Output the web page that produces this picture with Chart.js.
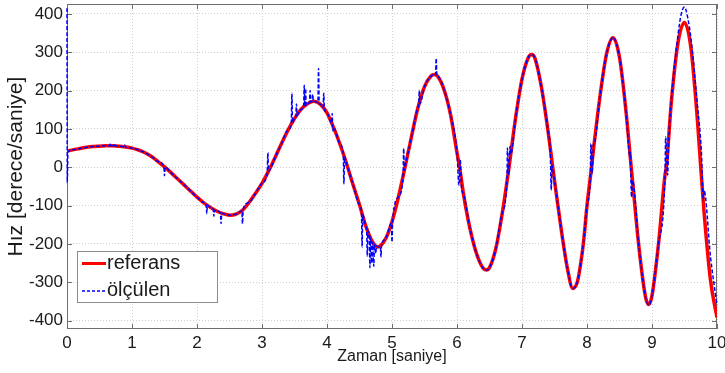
<!DOCTYPE html>
<html>
<head>
<meta charset="utf-8">
<script src="https://cdn.jsdelivr.net/npm/chart.js@4/dist/chart.umd.min.js"></script>
<style>
    html, body { margin: 0; padding: 0; background: #fff; }
    #wrap { width: 725px; height: 373px; }
</style>
</head>
<body>
<div id="wrap"><canvas id="speedChart" width="725" height="373"></canvas></div>
<script>
// Data
const refTime = [0, 0.1, 0.2, 0.3, 0.4, 0.5, 0.6, 0.7, 0.8, 0.9, 1.0, 1.1, 1.2, 1.3, 1.4, 1.5, 1.6, 1.7, 1.8, 1.9,
    2.0, 2.1, 2.2, 2.3, 2.4, 2.5, 2.6, 2.7, 2.8, 2.9, 3.0, 3.1, 3.2, 3.3, 3.4, 3.5, 3.6, 3.7, 3.8, 3.9,
    4.0, 4.1, 4.2, 4.3, 4.4, 4.5, 4.6, 4.7, 4.78, 4.9, 5.0, 5.1, 5.2, 5.3, 5.4, 5.5, 5.6, 5.65, 5.7, 5.8, 5.9,
    6.0, 6.04, 6.1, 6.2, 6.3, 6.4, 6.45, 6.5, 6.6, 6.7, 6.8, 6.9, 7.0, 7.1, 7.15, 7.2, 7.3, 7.4,
    7.5, 7.6, 7.7, 7.78, 7.85, 7.9, 7.95, 8.0, 8.07, 8.1, 8.2, 8.3, 8.4, 8.5, 8.6, 8.68, 8.7, 8.8, 8.9,
    8.95, 9.0, 9.1, 9.2, 9.22, 9.3, 9.4, 9.5, 9.6, 9.7, 9.75, 9.8, 9.9, 10.0];
const refSpeed = [42, 46, 49, 52, 54, 55, 56, 56, 55, 53, 50, 45, 38, 28, 15, 1, -14, -30, -46, -62,
    -78, -92, -104, -114, -121, -125, -122, -112, -92, -68, -42, -10, 25, 62, 97, 127, 151, 166, 172, 164,
    142, 104, 60, 10, -45, -98, -155, -195, -208, -187, -142, -77, 0, 80, 156, 210, 238, 242, 238, 203, 138,
    38, 0, -70, -160, -225, -263, -268, -262, -210, -116, 0, 127, 230, 287, 294, 284, 208, 95,
    -35, -158, -265, -316, -300, -255, -190, -100, 0, 47, 185, 295, 338, 287, 146, 0, -35, -210, -338,
    -358, -335, -200, -20, 0, 175, 325, 378, 310, 120, 0, -115, -295, -392];

const measTime = [0, 0.004, 0.015, 0.1, 0.2, 0.3, 0.4, 0.5, 0.6, 0.66, 0.67, 0.68, 0.72, 0.73, 0.74, 0.8, 0.88, 0.89, 0.9,
    1.0, 1.1, 1.2, 1.3, 1.4, 1.49, 1.5, 1.51, 1.6, 1.7, 1.8, 1.9, 2.0, 2.1, 2.14, 2.15, 2.16, 2.2, 2.25, 2.26, 2.27,
    2.3, 2.36, 2.37, 2.38, 2.4, 2.5, 2.6, 2.69, 2.7, 2.71, 2.8, 2.9, 3.0, 3.08, 3.09, 3.1, 3.2, 3.3, 3.4,
    3.45, 3.46, 3.47, 3.5, 3.52, 3.53, 3.54, 3.6, 3.64, 3.65, 3.66, 3.67, 3.68, 3.7, 3.73, 3.74, 3.75, 3.77, 3.78,
    3.79, 3.8, 3.86, 3.87, 3.88, 3.9, 3.94, 3.95, 3.96, 4.0, 4.07, 4.08, 4.09, 4.1, 4.2, 4.25, 4.26, 4.27, 4.3,
    4.4, 4.5, 4.53, 4.54, 4.55, 4.6, 4.61, 4.62, 4.63, 4.65, 4.66, 4.67, 4.69, 4.7, 4.72, 4.73, 4.75, 4.76, 4.78,
    4.82, 4.83, 4.84, 4.9, 4.99, 5.0, 5.01, 5.1, 5.17, 5.18, 5.19, 5.2, 5.3, 5.4, 5.41, 5.42, 5.43, 5.5, 5.6,
    5.65, 5.67, 5.68, 5.69, 5.7, 5.8, 5.9, 6.0, 6.03, 6.05, 6.07, 6.1, 6.2, 6.3, 6.4, 6.45, 6.5, 6.6, 6.7,
    6.77, 6.775, 6.8, 6.815, 6.83, 6.9, 7.0, 7.1, 7.15, 7.2, 7.3, 7.4, 7.435, 7.45, 7.46, 7.5, 7.6, 7.7,
    7.78, 7.85, 7.9, 7.95, 8.0, 8.05, 8.06, 8.08, 8.1, 8.11, 8.2, 8.3, 8.4, 8.5, 8.6, 8.66, 8.665, 8.685, 8.7,
    8.8, 8.9, 8.95, 9.0, 9.1, 9.2, 9.21, 9.24, 9.26, 9.3, 9.4, 9.45, 9.5, 9.55, 9.6, 9.7, 9.76, 9.79, 9.8,
    9.9, 10.0];
const measSpeed = [415, -40, 40, 46, 49, 52, 54, 55, 56, 56, 62, 56, 56, 61, 56, 55, 53, 58, 53,
    50, 45, 38, 28, 15, 2, -22, 0, -14, -30, -46, -62, -78, -92, -97, -121, -99, -104, -110, -128, -112,
    -114, -119, -147, -120, -121, -125, -122, -114, -147, -110, -92, -68, -42, -16, 38, -10, 25, 62, 97,
    113, 193, 116, 127, 132, 165, 136, 151, 158, 214, 160, 205, 162, 166, 168, 200, 170, 171, 190,
    172, 172, 169, 258, 167, 164, 156, 193, 152, 142, 116, 140, 95, 104, 60, 36, -43, 28, 10,
    -45, -98, -115, -208, -124, -155, -160, -232, -166, -175, -262, -182, -250, -195, -258, -200, -225, -205, -208,
    -206, -234, -203, -187, -146, -195, -138, -77, -24, 49, -8, 0, 80, 156, 160, 201, 166, 210, 238,
    242, 241, 284, 239, 238, 203, 138, 38, -47, 20, -55, -70, -160, -225, -263, -268, -262, -210, -116,
    -25, 50, -20, 55, 35, 127, 230, 287, 294, 284, 208, 95, 40, -60, 5, -35, -158, -265,
    -316, -300, -255, -190, -100, -30, 62, -16, 60, 62, 185, 295, 338, 287, 146, 30, 40, -78, -35,
    -210, -338, -360, -335, -200, -20, 79, -20, 80, 180, 345, 400, 418, 390, 335, 160, 40, -86, -60,
    -234, -360];

const xTickValues = [0, 1, 2, 3, 4, 5, 6, 7, 8, 9, 10];
const yTickValues = [-400, -300, -200, -100, 0, 100, 200, 300, 400];

const seriesNames = ['referans', 'ölçülen'];

// Global chart settings
Chart.defaults.font.family = "'Liberation Sans', Arial, sans-serif";
Chart.defaults.color = '#1a1a1a';

function toPoints(xs, ys) {
    return xs.map((x, i) => ({ x: x, y: ys[i] }));
}

// Box around the axes with small inward ticks (matlab style)
const axesBoxPlugin = {
    id: 'axesBox',
    beforeDatasetsDraw(chart) {
        const { ctx, chartArea: a, scales } = chart;
        ctx.save();
        ctx.strokeStyle = '#6e6e6e';
        ctx.lineWidth = 1;
        ctx.strokeRect(a.left + 0.5, a.top + 0.5, a.right - a.left - 1, a.bottom - a.top - 1);
        ctx.beginPath();
        xTickValues.forEach(v => {
            const px = Math.round(scales.x.getPixelForValue(v)) + 0.5;
            ctx.moveTo(px, a.bottom); ctx.lineTo(px, a.bottom - 5);
            ctx.moveTo(px, a.top); ctx.lineTo(px, a.top + 5);
        });
        yTickValues.forEach(v => {
            const py = Math.round(scales.y.getPixelForValue(v)) + 0.5;
            ctx.moveTo(a.left, py); ctx.lineTo(a.left + 5, py);
            ctx.moveTo(a.right, py); ctx.lineTo(a.right - 5, py);
        });
        ctx.stroke();
        ctx.restore();
    }
};

// Legend box in the lower left corner
const boxLegendPlugin = {
    id: 'boxLegend',
    afterDraw(chart) {
        const ctx = chart.ctx;
        const x = 77, y = 251, w = 140, h = 51;
        ctx.save();
        ctx.fillStyle = '#ffffff';
        ctx.fillRect(x, y, w, h);
        ctx.strokeStyle = '#8c8c8c';
        ctx.lineWidth = 1;
        ctx.strokeRect(x + 0.5, y + 0.5, w, h);

        // referans
        ctx.strokeStyle = '#ff0000';
        ctx.lineWidth = 3;
        ctx.beginPath();
        ctx.moveTo(82, 263.5); ctx.lineTo(106, 263.5);
        ctx.stroke();
        // olculen
        ctx.strokeStyle = '#0000ff';
        ctx.lineWidth = 1.5;
        ctx.setLineDash([3, 2]);
        ctx.beginPath();
        ctx.moveTo(82, 291); ctx.lineTo(106, 291);
        ctx.stroke();
        ctx.setLineDash([]);

        ctx.fillStyle = '#1a1a1a';
        ctx.font = "20px 'Liberation Sans', Arial, sans-serif";
        ctx.textBaseline = 'middle';
        ctx.fillText(seriesNames[0], 107, 263);
        ctx.fillText(seriesNames[1], 107, 290);
        ctx.restore();
    }
};

function createSpeedChart() {
    const ctx = document.getElementById('speedChart');

    new Chart(ctx, {
        type: 'line',
        data: {
            datasets: [
                {
                    label: seriesNames[0],
                    data: toPoints(refTime, refSpeed),
                    borderColor: '#ff0000',
                    borderWidth: 3.5,
                    pointRadius: 0,
                    cubicInterpolationMode: 'monotone',
                    order: 2
                },
                {
                    label: seriesNames[1],
                    data: toPoints(measTime, measSpeed),
                    borderColor: '#0000ff',
                    borderWidth: 1.5,
                    borderDash: [4, 2],
                    pointRadius: 0,
                    cubicInterpolationMode: 'monotone',
                    clip: 2,
                    order: 1
                }
            ]
        },
        options: {
            responsive: false,
            devicePixelRatio: 1,
            animation: false,
            layout: {
                padding: { top: 4, right: 8, bottom: 0, left: 0 }
            },
            plugins: {
                legend: { display: false },
                tooltip: { enabled: false }
            },
            scales: {
                x: {
                    type: 'linear',
                    min: 0,
                    max: 10,
                    afterBuildTicks: scale => { scale.ticks = xTickValues.map(v => ({ value: v })); },
                    afterFit: scale => {
                        scale.height = 44;
                        scale.paddingLeft = 0;
                        scale.paddingRight = 0;
                    },
                    ticks: {
                        font: { size: 17 },
                        padding: 4,
                        maxRotation: 0
                    },
                    grid: {
                        color: '#cfcfcf',
                        drawTicks: false
                    },
                    border: { display: false, dash: [1, 2] },
                    title: {
                        display: true,
                        text: 'Zaman [saniye]',
                        font: { size: 16 },
                        padding: { top: 0, bottom: 7 }
                    }
                },
                y: {
                    type: 'linear',
                    min: -422,
                    max: 426,
                    afterBuildTicks: scale => { scale.ticks = yTickValues.map(v => ({ value: v })); },
                    afterFit: scale => {
                        scale.width = 67;
                        scale.paddingTop = 0;
                        scale.paddingBottom = 0;
                    },
                    ticks: {
                        font: { size: 17 },
                        padding: 4
                    },
                    grid: {
                        color: '#cfcfcf',
                        drawTicks: false
                    },
                    border: { display: false, dash: [1, 2] },
                    title: {
                        display: true,
                        text: 'Hız [derece/saniye]',
                        font: { size: 21 },
                        padding: { top: 4, bottom: 0 }
                    }
                }
            }
        },
        plugins: [axesBoxPlugin, boxLegendPlugin]
    });
}

document.addEventListener('DOMContentLoaded', createSpeedChart);
</script>
</body>
</html>
